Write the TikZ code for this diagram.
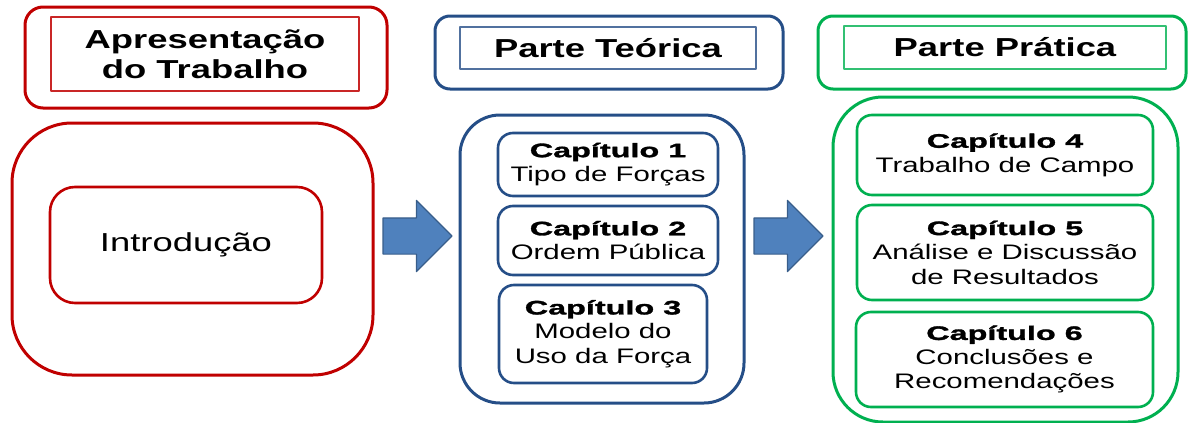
\documentclass[tikz,border=0pt]{standalone}
\usepackage{fontspec}
\setmainfont{Liberation Sans}[FakeStretch=1.4]
\newfontfamily\capfont{Liberation Sans}[FakeStretch=1.66, BoldFeatures={FakeBold=1.6}]
\usetikzlibrary{positioning,shapes.arrows}
\definecolor{redc}{RGB}{192,0,0}
\definecolor{bluec}{RGB}{37,78,135}
\definecolor{greenc}{RGB}{0,176,80}
\definecolor{arrowfill}{RGB}{79,129,189}
\definecolor{arrowline}{RGB}{56,93,138}
\newcommand\hdrfont{\bfseries\fontsize{26}{30}\selectfont}
\newcommand\txtfont{\fontsize{21}{24.5}\selectfont}
\newcommand\captit[1]{{\capfont\bfseries\fontsize{19.5}{24}\selectfont #1}}
\tikzset{
  frame/.style={rectangle, draw, line width=3pt, inner sep=0pt},
  title/.style={rectangle, draw, line width=1.1pt, inner sep=0pt, align=center, font=\hdrfont},
  chapbox/.style={rectangle, draw, line width=2.6pt, rounded corners=15pt, inner sep=0pt, align=center, font=\txtfont},
  blockarrow/.style={single arrow, draw=arrowline, fill=arrowfill, line width=1.2pt, inner xsep=0pt, inner ysep=17.5pt,
    minimum height=69pt, single arrow head extend=17.5pt, single arrow head indent=0pt},
}
\begin{document}
\begin{tikzpicture}[x=1pt, y=-1pt, line join=round]
	\def\W{1189} \def\H{423}
	\useasboundingbox (0,0) rectangle (\W,\H);
	% cabecalhos
	\node[frame, draw=redc, rounded corners=18pt, minimum width=362pt, minimum height=101pt] (apresF) at (206,57.5) {};
	\node[title, draw=redc!85, minimum width=308pt, minimum height=74pt] (apres) at (205,54) {Apresentação\\do Trabalho};
	\node[frame, draw=bluec, rounded corners=15pt, minimum width=348pt, minimum height=73pt] (teorF) at (609,52.5) {};
	\node[title, draw=bluec!80, minimum width=296pt, minimum height=42pt] (teor) at (608,48) {Parte Teórica};
	\node[frame, draw=greenc, rounded corners=15pt, minimum width=368pt, minimum height=73pt] (pratF) at (1002,52.5) {};
	\node[title, draw=greenc!80, minimum width=322pt, minimum height=43pt] (prat) at (1005,47.5) {Parte Prática};
	% blocos
	\node[frame, draw=redc, rounded corners=60pt, minimum width=361pt, minimum height=252pt] (introF) at (192.5,249) {};
	\node[chapbox, draw=redc, rounded corners=25pt, minimum width=272pt, minimum height=116pt, font=\fontsize{26}{30}\selectfont] (intro) at (186,245) {Introdução};
	\node[frame, draw=bluec, rounded corners=40pt, minimum width=284pt, minimum height=288pt] (teoriaF) at (602,259) {};
	\node[chapbox, draw=bluec, minimum width=220pt, minimum height=63pt] (cap1) at (608,164.5) {\captit{Capítulo 1}\\Tipo de Forças};
	\node[chapbox, draw=bluec, minimum width=220pt, minimum height=69pt] (cap2) at (608,240.5) {\captit{Capítulo 2}\\Ordem Pública};
	\node[chapbox, draw=bluec, minimum width=208pt, minimum height=98pt] (cap3) at (603,334) {\captit{Capítulo 3}\\Modelo do\\Uso da Força};
	\node[frame, draw=greenc, rounded corners=50pt, minimum width=345pt, minimum height=325pt] (praticaF) at (1005.5,259.5) {};
	\node[chapbox, draw=greenc, minimum width=296pt, minimum height=80pt] (cap4) at (1005,155) {\captit{Capítulo 4}\\Trabalho de Campo};
	\node[chapbox, draw=greenc, minimum width=296pt, minimum height=95pt] (cap5) at (1005,252.5) {\captit{Capítulo 5}\\Análise e Discussão\\de Resultados};
	\node[chapbox, draw=greenc, minimum width=297pt, minimum height=95pt] (cap6) at (1004.5,359.5) {\captit{Capítulo 6}\\Conclusões e\\Recomendações};
	% setas
	\node[blockarrow] (setaA) at (408.5,236) {};
	\node[blockarrow] (setaB) at (779.5,236) {};
\end{tikzpicture}
\end{document}
